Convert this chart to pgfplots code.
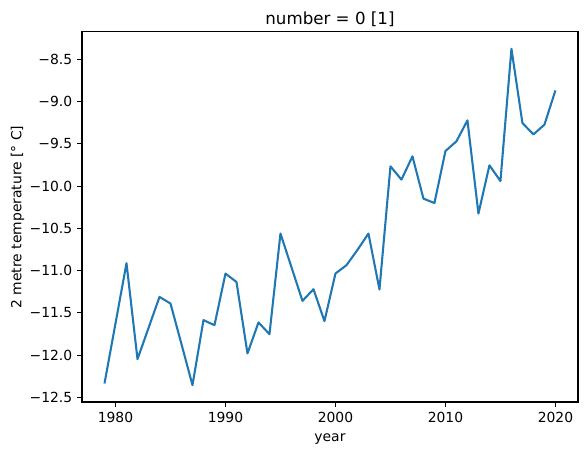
\documentclass[border=0pt]{standalone}
\usepackage{fontspec}
\setmainfont{DejaVu Sans}
\usepackage{pgfplots}
\pgfplotsset{compat=1.18}
\usetikzlibrary{calc}
\definecolor{tabblue}{HTML}{1F77B4}
\begin{document}
\begin{tikzpicture}
\begin{axis}[
  scale only axis,
  width=357.1pt, height=266.4pt,
  xmin=1976.95, xmax=2022.05,
  ymin=-12.554, ymax=-8.176,
  xtick={1980,1990,2000,2010,2020},
  xticklabels={1980,1990,2000,2010,2020},
  ytick={-12.5,-12,-11.5,-11,-10.5,-10,-9.5,-9,-8.5},
  yticklabels={−12.5,−12.0,−11.5,−11.0,−10.5,−10.0,−9.5,−9.0,−8.5},
  tick align=outside,
  major tick length=3.5pt,
  xtick pos=bottom, ytick pos=left,
  every tick/.style={black, line width=0.8pt},
  axis line style={line width=0.8pt},
  tick label style={font=\fontsize{10pt}{12pt}\selectfont},
  label style={font=\fontsize{10pt}{12pt}\selectfont},
  xlabel={year},
  ylabel={2 metre temperature [° C]},
  xlabel shift=1.5pt,
  ylabel shift=-3pt,
  title={number = 0 [1]},
  title style={font=\fontsize{12pt}{14pt}\selectfont, yshift=-6pt},
]
\addplot[tabblue, line width=1.5pt, line join=round] coordinates {
(1979,-12.335) (1980,-11.625) (1981,-10.912) (1982,-12.047) (1983,-11.68)
(1984,-11.311) (1985,-11.389) (1986,-11.87) (1987,-12.355) (1988,-11.586)
(1989,-11.645) (1990,-11.035) (1991,-11.134) (1992,-11.98) (1993,-11.613)
(1994,-11.752) (1995,-10.561) (1996,-10.96) (1997,-11.358) (1998,-11.22)
(1999,-11.597) (2000,-11.034) (2001,-10.936) (2002,-10.755) (2003,-10.561)
(2004,-11.223) (2005,-9.766) (2006,-9.923) (2007,-9.648) (2008,-10.148)
(2009,-10.2) (2010,-9.585) (2011,-9.47) (2012,-9.222) (2013,-10.325)
(2014,-9.754) (2015,-9.94) (2016,-8.375) (2017,-9.254) (2018,-9.388)
(2019,-9.273) (2020,-8.868)
};
\end{axis}
\useasboundingbox ($(current axis.south west)+(-59.0pt,-38.2pt)$) rectangle ($(current axis.north east)+(6.5pt,23.0pt)$);
\end{tikzpicture}
\end{document}
